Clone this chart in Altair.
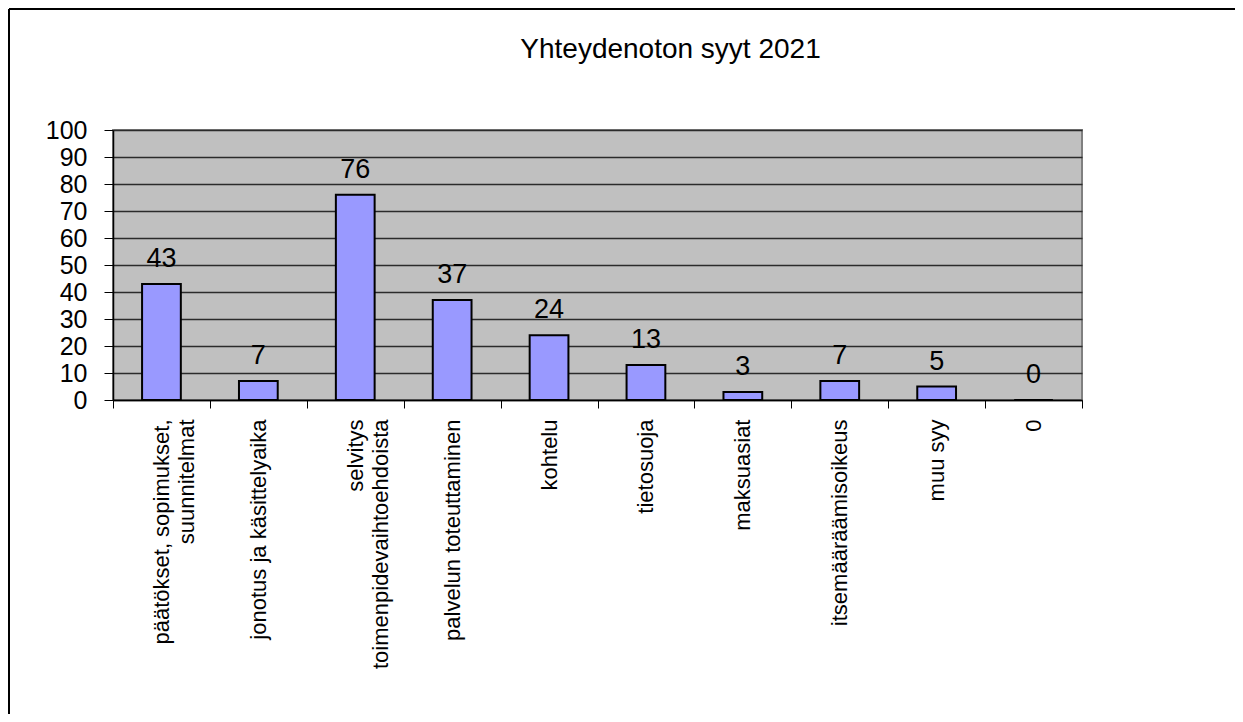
import altair as alt
import pandas as pd

categories = [
    "päätökset, sopimukset,\nsuunnitelmat",
    "jonotus ja käsittelyaika",
    "selvitys\ntoimenpidevaihtoehdoista",
    "palvelun toteuttaminen",
    "kohtelu",
    "tietosuoja",
    "maksuasiat",
    "itsemääräämisoikeus",
    "muu syy",
    "0",
]
values = [43, 7, 76, 37, 24, 13, 3, 7, 5, 0]
y_ticks = [0, 10, 20, 30, 40, 50, 60, 70, 80, 90, 100]
title_text = "Yhteydenoton syyt 2021"

df = pd.DataFrame({"syy": categories, "maara": values})

FONT = "Liberation Sans"

x_enc = alt.X(
    "syy:N",
    sort=categories,
    title=None,
    scale=alt.Scale(paddingInner=0, paddingOuter=0),
    axis=alt.Axis(
        labelAngle=-90,
        labelExpr="split(datum.label, '\\n')",
        tickBand="extent",
        ticks=True,
        tickSize=8,
        tickColor="black",
        tickWidth=1,
        domainColor="black",
        domainWidth=1.5,
        labelFontSize=22,
        labelLineHeight=25,
        labelPadding=11,
        labelColor="black",
        labelFont=FONT,
        labelLimit=500,
        grid=False,
    ),
)

y_enc = alt.Y(
    "maara:Q",
    title=None,
    scale=alt.Scale(domain=[0, 100], nice=False),
    axis=alt.Axis(
        values=y_ticks,
        tickSize=9,
        tickColor="black",
        tickWidth=1,
        labelPadding=17,
        labelFontSize=25,
        labelFont=FONT,
        labelColor="black",
        domainColor="black",
        domainWidth=1.5,
        grid=True,
        gridColor="#2b2b2b",
        gridWidth=1.3,
    ),
)

base = alt.Chart(df).encode(x=x_enc, y=y_enc)

bars = base.mark_bar(
    width=alt.RelativeBandSize(0.4),
    fill="#9999FF",
    stroke="black",
    strokeWidth=2,
)

labels = base.mark_text(
    dy=-17,
    baseline="alphabetic",
    fontSize=27,
    font=FONT,
    color="black",
).encode(text="maara:Q")

frame_left = alt.Chart(df).mark_rule(color="black", strokeWidth=1.5).encode(
    x=alt.value(-104), y=alt.value(-121), y2=alt.value(584)
)
frame_top = alt.Chart(df).mark_rule(color="black", strokeWidth=1.5).encode(
    x=alt.value(-104), x2=alt.value(1122), y=alt.value(-121)
)

chart = (
    alt.layer(bars, labels, frame_left, frame_top)
    .properties(
        width=969,
        height=270,
        autosize=alt.AutoSizeParams(type="none"),
        padding={"left": 105, "top": 122, "right": 153, "bottom": 314},
        background="white",
        title=alt.TitleParams(
            title_text,
            fontSize=28,
            font=FONT,
            fontWeight="normal",
            color="black",
            anchor="middle",
            frame="group",
            baseline="bottom",
            dx=73,
            offset=-84,
        ),
    )
    .configure_view(fill="#C0C0C0", stroke="#808080", strokeWidth=2)
)

chart.save("out.html", embed_options={"renderer": "svg", "actions": False})
